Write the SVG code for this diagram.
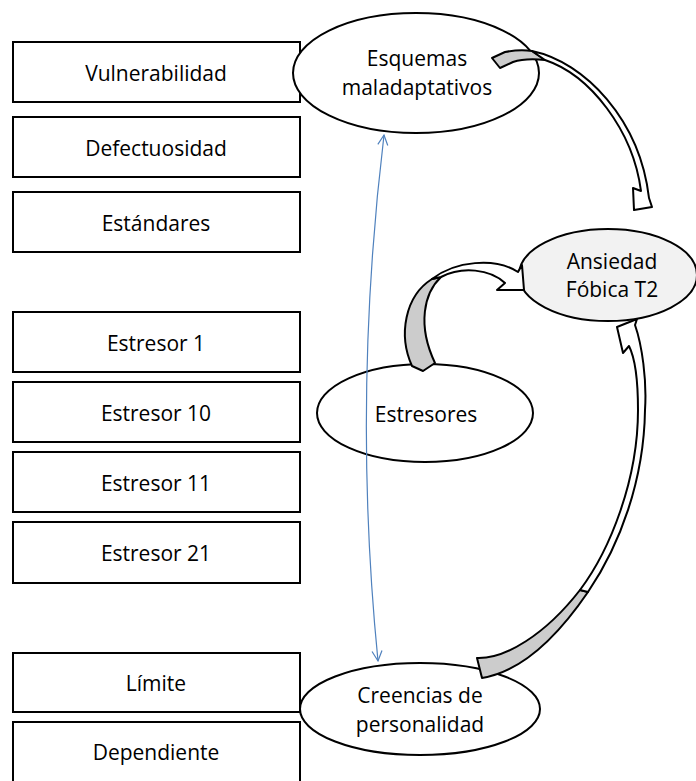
<svg xmlns="http://www.w3.org/2000/svg" width="696" height="781" viewBox="0 0 696 781">
  <style>
    .box { fill: #ffffff; stroke: #000000; stroke-width: 2; }
    .oval { fill: #ffffff; stroke: #000000; stroke-width: 2; }
    .oval.grey { fill: #f2f2f2; }
    .lbl { font-family: "Open Sans", "Liberation Sans", sans-serif; font-size: 21px; fill: #000000; text-anchor: middle; }
    .back { fill: #cccccc; stroke: #000000; stroke-width: 2; stroke-linejoin: round; }
    .front { fill: #ffffff; stroke: #000000; stroke-width: 2; stroke-linejoin: round; }
    .link { fill: none; stroke: #4f81bd; stroke-width: 1.2; }
  </style>
  <defs>
    <marker id="open" viewBox="0 0 12 12" refX="11" refY="6" markerWidth="12" markerHeight="12" markerUnits="userSpaceOnUse" orient="auto-start-reverse">
      <path d="M1,1 L11,6 L1,11" fill="none" stroke="#4f81bd" stroke-width="1.2"/>
    </marker>
  </defs>

  <rect width="696" height="781" fill="#ffffff"/>

  <!-- left column of factors -->
  <g id="vulnerabilidad"><rect class="box" x="13" y="42" width="287" height="60"/><text class="lbl" x="156" y="81">Vulnerabilidad</text></g>
  <g id="defectuosidad"><rect class="box" x="13" y="117" width="287" height="60"/><text class="lbl" x="156" y="156">Defectuosidad</text></g>
  <g id="estandares"><rect class="box" x="13" y="192" width="287" height="60"/><text class="lbl" x="156" y="231">Estándares</text></g>
  <g id="estresor1"><rect class="box" x="13" y="312" width="287" height="60"/><text class="lbl" x="156" y="351">Estresor 1</text></g>
  <g id="estresor10"><rect class="box" x="13" y="382" width="287" height="60"/><text class="lbl" x="156" y="421">Estresor 10</text></g>
  <g id="estresor11"><rect class="box" x="13" y="452" width="287" height="60"/><text class="lbl" x="156" y="491">Estresor 11</text></g>
  <g id="estresor21"><rect class="box" x="13" y="522" width="287" height="61"/><text class="lbl" x="156" y="561">Estresor 21</text></g>
  <g id="limite"><rect class="box" x="13" y="653" width="287" height="59"/><text class="lbl" x="156" y="691">Límite</text></g>
  <g id="dependiente"><rect class="box" x="13" y="722" width="287" height="62"/><text class="lbl" x="156" y="760">Dependiente</text></g>

  <!-- latent constructs -->
  <g id="esquemas"><ellipse class="oval" cx="416" cy="73" rx="123" ry="60"/><text class="lbl" x="417" y="66">Esquemas</text><text class="lbl" x="417" y="95">maladaptativos</text></g>
  <g id="estresores"><ellipse class="oval" cx="425" cy="413" rx="108" ry="49"/><text class="lbl" x="426" y="422">Estresores</text></g>
  <g id="creencias"><ellipse class="oval" cx="420" cy="709" rx="120" ry="46"/><text class="lbl" x="420" y="703">Creencias de</text><text class="lbl" x="420" y="732">personalidad</text></g>
  <g id="ansiedad"><ellipse class="oval grey" cx="608" cy="275" rx="89" ry="46"/><text class="lbl" x="612" y="269">Ansiedad</text><text class="lbl" x="612" y="297">Fóbica T2</text></g>

  <g id="connectors">
    <!-- correlation between schemas and personality beliefs -->
    <path class="link" d="M384,135 Q352,400 378,661" marker-start="url(#open)" marker-end="url(#open)"/>

    <!-- schemas to anxiety -->
    <path class="back" d="M492,58 L505,52 Q520,49 532,51 L545,60 Q525,58 513,62 L500,68 Z"/>
    <path class="front" d="M532,51 C585,62 640,120 649,198 L652,207 L634,210 L633,188 L641,191 C633,130 590,75 545,60 Z"/>

    <!-- stressors to anxiety -->
    <path class="back" d="M412,366 C398,335 405,296 432,279 L441,277 C424,293 417,325 435,363 L423,371 Z"/>
    <path class="front" d="M432,279 C455,261 495,257 518,272 L522,265 L524,290 L497,290 L505,283 C490,269 462,266 441,277 Z"/>

    <!-- personality beliefs to anxiety -->
    <path class="back" d="M477,658 C505,659 545,635 580,590 L588,592 C560,633 525,671 482,678 Z"/>
    <path class="front" d="M580,590 C610,550 638,480 638,410 C638,380 636,360 629,346 L623,353 L617,327 L637,319 L635,325 C642,345 647,380 645,410 C644,480 620,545 588,592 Z"/>
  </g>
</svg>
